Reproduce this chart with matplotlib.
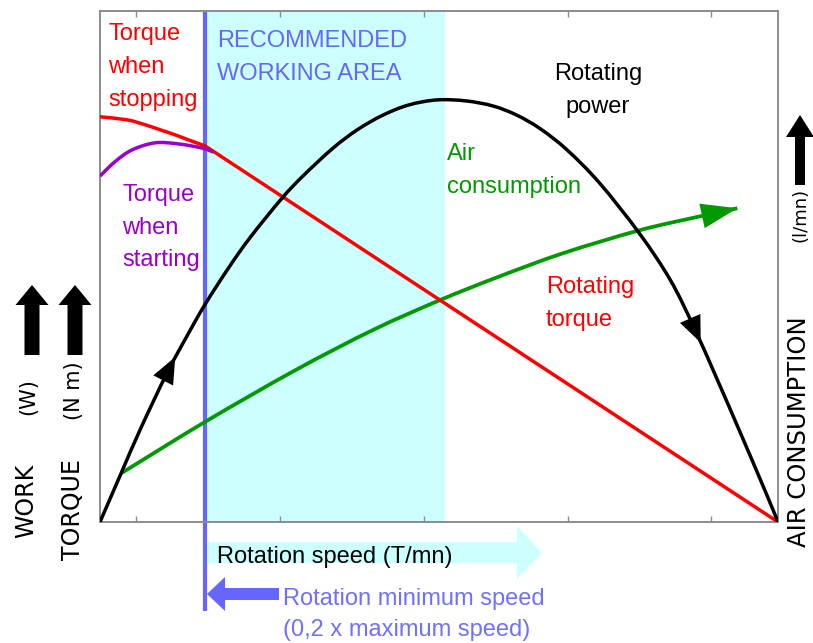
import matplotlib
matplotlib.use("Agg")
import numpy as np
import matplotlib.pyplot as plt
from matplotlib.patches import FancyArrow, PathPatch
from matplotlib.path import Path
from matplotlib.transforms import IdentityTransform

# ---- curve data (speed in % of maximum speed, values in % of full scale) ----
power_speed = [0, 3.2, 6.0, 9.9, 13.0, 15.5, 19.0, 22.1, 26.8, 30.0, 34.4, 38.0,
               41.7, 45.5, 49.7, 54.0, 58.0, 61.5, 65.0, 68.9, 73.7, 79.6, 84.1,
               87.5, 91.0, 94.4, 97.3, 99.1, 100]
power = [0, 9.8, 18.3, 29.2, 36.8, 42.6, 49.8, 55.6, 63.3, 67.8, 73.2, 76.8,
         79.6, 81.6, 82.6, 82.4, 81.4, 79.6, 76.9, 72.8, 66.3, 56.4, 47.4,
         38.4, 28.0, 17.6, 8.6, 2.9, 0]

torque_speed = [0, 4.0, 6.5, 9.0, 11.0, 13.0, 15.5, 100]
torque = [79.3, 78.7, 77.8, 76.7, 75.8, 74.8, 73.6, 0]

start_speed = [0, 2.2, 4.7, 8.1, 11.5, 15.0, 16.7]
start_torque = [67.7, 70.5, 72.8, 74.2, 74.0, 73.2, 72.4]

air_speed = [3.2, 15.5, 28.8, 40.3, 50.1, 58.6, 68.3, 79.6, 88.1, 94.0]
air = [9.6, 19.6, 29.7, 37.6, 43.4, 47.9, 52.6, 57.1, 59.7, 61.4]

min_speed = 15.5          # rotation minimum speed
area_end = 50.9           # end of the recommended working area

W, H = 813, 643
plt.rcParams["font.family"] = ["Liberation Sans", "DejaVu Sans"]

fig = plt.figure(figsize=(W / 100, H / 100), dpi=100)
ax = fig.add_axes([100 / W, 1 - 522 / H, 678 / W, 511 / H])
ax.set_xlim(0, 100)
ax.set_ylim(0, 100)

RED = "#ff0000"
GREEN = "#009900"
PURPLE = "#9900cc"
BLUE = "#6666ff"
CYAN = "#ccffff"


def smooth_curve(xs, ys, color, lw, z):
    """Draw a smooth curve through the given points (Catmull-Rom as Bezier)."""
    p = np.column_stack([xs, ys]).astype(float)
    n = len(p)
    verts = [p[0]]
    codes = [Path.MOVETO]
    for i in range(n - 1):
        p0 = p[i - 1] if i > 0 else p[i]
        p1, p2 = p[i], p[i + 1]
        p3 = p[i + 2] if i + 2 < n else p[i + 1]
        verts += [p1 + (p2 - p0) / 6, p2 - (p3 - p1) / 6, p2]
        codes += [Path.CURVE4] * 3
    ax.add_patch(PathPatch(Path(verts, codes), fill=False, edgecolor=color,
                           lw=lw, zorder=z, joinstyle="round", capstyle="butt"))


# recommended working area
ax.axvspan(min_speed, area_end, color=CYAN, lw=0, zorder=0)

# minimum speed marker, running below the axis
ax.plot([min_speed, min_speed], [-17.4, 100], color=BLUE, lw=3, clip_on=False,
        zorder=2, solid_capstyle="butt")

smooth_curve(air_speed, air, GREEN, 2.7, 3)
smooth_curve(torque_speed[:-1], torque[:-1], RED, 2.5, 3)
ax.plot(torque_speed[-2:], torque[-2:], color=RED, lw=2.5, zorder=3)
smooth_curve(start_speed, start_torque, PURPLE, 2.5, 3)
smooth_curve(power_speed, power, "black", 2.5, 4)


def head(tip, base, color, hl, hw):
    ax.annotate("", xy=tip, xytext=base,
                arrowprops=dict(arrowstyle=f"-|>,head_length={hl},head_width={hw}",
                                mutation_scale=10, color=color, lw=0,
                                shrinkA=0, shrinkB=0), zorder=5)


head((air_speed[-1], air[-1]), (air_speed[-2], air[-2]), GREEN, 2.6, 0.9)
head((11.1, 32.3), (9.4, 27.9), "black", 1.9, 0.8)
head((88.6, 35.1), (86.6, 41.2), "black", 1.9, 0.8)

# frame and ticks
for s in ax.spines.values():
    s.set_color("#8c8c8c")
    s.set_linewidth(1.4)
ax.set_xticks([5.3, 26.5, 47.8, 69.0, 90.1])
ax.set_yticks([])
ax.tick_params(axis="x", direction="in", length=4, width=1, color="#8c8c8c",
               top=True, labelbottom=False)


def lines(strings, x, y0, color, ha="left", step=33, size=17):
    for i, s in enumerate(strings):
        fig.text(x / W, 1 - (y0 + i * step) / H, s, color=color, ha=ha,
                 va="baseline", fontsize=size)


lines(["Torque", "when", "stopping"], 108, 40, RED)
lines(["RECOMMENDED", "WORKING AREA"], 217, 47, BLUE)
lines(["Rotating", "power"], 598, 80, "black", ha="center")
lines(["Air", "consumption"], 447, 160, GREEN)
lines(["Rotating", "torque"], 546, 293, RED)
lines(["Torque", "when", "starting"], 122, 201, PURPLE, step=32.5)


def fig_arrow(x0, y0, x1, y1, width, head_w, head_l, color, z=1):
    # pixel coordinates measured from the top-left corner of the image
    a = FancyArrow(x0, H - y0, x1 - x0, -(y1 - y0), width=width,
                   head_width=head_w, head_length=head_l,
                   length_includes_head=True, color=color, lw=0,
                   transform=IdentityTransform(), zorder=z)
    fig.add_artist(a)


# speed direction arrow and minimum speed arrow
fig_arrow(207, 552.5, 542, 552.5, 21, 53, 25, CYAN)
lines(["Rotation speed (T/mn)"], 217, 563, "black")
fig_arrow(279, 594, 207, 594, 12, 34, 18, BLUE)
lines(["Rotation minimum speed", "(0,2 x maximum speed)"], 283, 605, "#7070ff",
      step=31)

# axis titles with arrows
fig_arrow(32, 355, 32, 285, 15, 33, 20, "black")
fig_arrow(75, 355, 75, 285, 15, 33, 20, "black")
fig_arrow(800, 185, 800, 115, 10, 28, 22, "black")

side = dict(rotation=90, ha="center", va="center", family="DejaVu Sans",
            color="black")
fig.text(26 / W, 1 - 501 / H, "WORK", fontsize=17, **side)
fig.text(28 / W, 1 - 397 / H, "(W)", fontsize=15, **side)
fig.text(73 / W, 1 - 510 / H, "TORQUE", fontsize=17, **side)
fig.text(74 / W, 1 - 391 / H, "(N m)", fontsize=15, **side)
fig.text(799 / W, 1 - 432 / H, "AIR CONSUMPTION", fontsize=17.5, **side)
fig.text(800 / W, 1 - 215 / H, "(l/mn)", fontsize=13, **side)

fig.savefig("out.png", dpi=100)
